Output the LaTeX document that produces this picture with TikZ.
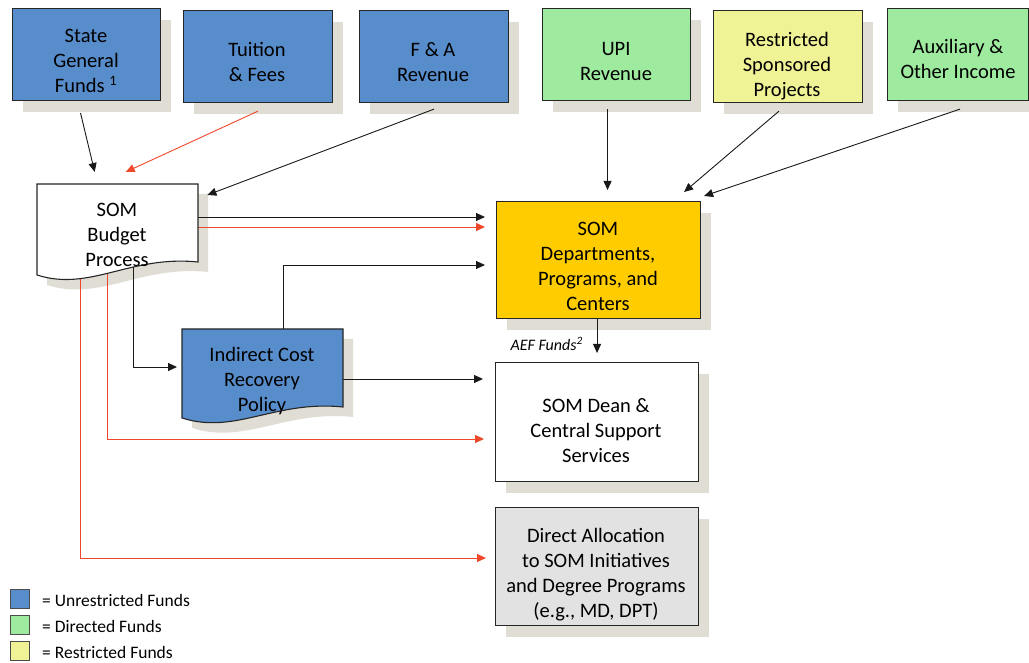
\documentclass[tikz,border=0pt]{standalone}
\usepackage{fontspec}
\setmainfont{Carlito}
\usetikzlibrary{arrows.meta,shadows}
\definecolor{ublue}{RGB}{88,141,203}
\definecolor{dgreen}{RGB}{158,234,158}
\definecolor{ryellow}{RGB}{240,242,150}
\definecolor{gold}{RGB}{255,204,0}
\definecolor{shad}{RGB}{224,222,212}
\definecolor{gbox}{RGB}{226,226,226}
\definecolor{redl}{RGB}{238,72,42}
\begin{document}
\begin{tikzpicture}[x=1pt,y=-1pt,
  bx/.style={draw=black!85,line width=1.1pt,anchor=north west,inner sep=0pt,
    general shadow={fill=shad,shadow xshift=10pt,shadow yshift=-11pt}},
  ghost/.style={anchor=north west,inner sep=0pt},
  txt/.style={align=center,font=\fontsize{20.5}{25}\selectfont,inner sep=0pt,
    execute at begin node=\strut,execute at end node=\strut},
  blk/.style={draw=black!90,line width=0.9pt,-{Triangle[length=9pt,width=8pt]}},
  rd/.style={draw=redl,line width=0.9pt,-{Triangle[length=9pt,width=8pt]}},
  doc/.style={draw=black!85,line width=1.1pt},
  leg/.style={draw=black!70,line width=0.8pt,minimum size=19pt,inner sep=0pt,anchor=north west},
  legt/.style={anchor=west,inner sep=0pt,font=\fontsize{17.5}{20}\selectfont},
]
\useasboundingbox (0,0) rectangle (1029,663);

% top row
\node[bx,fill=ublue,minimum width=148pt,minimum height=92pt] (sg) at (12,8) {};
\node[txt] at (86,65) {State\\General\\Funds \textsuperscript{1}};
\node[bx,fill=ublue,minimum width=149pt,minimum height=92pt] (tu) at (183,10) {};
\node[txt] at (257,66) {Tuition\\\& Fees};
\node[bx,fill=ublue,minimum width=149pt,minimum height=92pt] (fa) at (359,10) {};
\node[txt] at (433,66) {F \& A\\Revenue};
\node[bx,fill=dgreen,minimum width=148pt,minimum height=92pt] (upi) at (542,8) {};
\node[txt] at (616,65) {UPI\\Revenue};
\node[bx,fill=ryellow,minimum width=149pt,minimum height=92pt] (rsp) at (713,10) {};
\node[txt] at (787,68) {Restricted\\Sponsored\\Projects};
\node[bx,fill=dgreen,minimum width=141pt,minimum height=92pt] (aux) at (887,8) {};
\node[txt] at (958,63) {Auxiliary \&\\Other Income};

% right column
\node[bx,fill=gold,minimum width=204pt,minimum height=117pt] (dep) at (496,201) {};
\node[txt] at (598,270) {SOM\\Departments,\\Programs, and\\Centers};
\node[bx,fill=white,minimum width=203pt,minimum height=119pt] (dean) at (495,362) {};
\node[txt] at (596,434) {SOM Dean \&\\Central Support\\Services};
\node[bx,fill=gbox,minimum width=203pt,minimum height=118pt] (dir) at (495,507) {};
\node[txt] at (596,577) {Direct Allocation\\to SOM Initiatives\\and Degree Programs\\(e.g., MD, DPT)};

% document shapes (frames)
\node[ghost,minimum width=161pt,minimum height=78pt] (bud) at (37,184) {};
\node[ghost,minimum width=161pt,minimum height=78pt] (ind) at (182,329) {};
\fill[shad] (47,194) -- (208,194) -- (208,272) .. controls (140,265) and (100,302) .. (47,285) -- cycle;
\fill[shad] (192,339) -- (353,339) -- (353,417) .. controls (285,410) and (245,445) .. (192,428) -- cycle;

% connectors
\draw[blk] ([xshift=-6pt,yshift=-12pt]sg.south) -- ([xshift=-23pt,yshift=12pt]bud.north);
\draw[rd] ([yshift=-8pt]tu.south) -- ([xshift=8pt,yshift=12pt]bud.north);
\draw[blk] ([yshift=-6pt]fa.south) -- ([xshift=9pt,yshift=-11pt]bud.north east);
\draw[blk] ([xshift=-9pt,yshift=-8pt]upi.south) -- ([xshift=9pt,yshift=11pt]dep.north);
\draw[blk] ([xshift=-9pt,yshift=-8pt]rsp.south) -- ([xshift=-17pt,yshift=9pt]dep.north east);
\draw[blk] ([xshift=2pt,yshift=-8pt]aux.south) -- ([xshift=3pt,yshift=5pt]dep.north east);
\draw[blk,shorten >=11pt] (bud.east |- 0,217) -- (dep.west |- 0,217);
\draw[rd,shorten >=11pt] (bud.east |- 0,227) -- (dep.west |- 0,227);
\draw[blk,shorten >=11pt] (283,0 |- ind.north) |- (dep.west |- 0,265);
\draw[blk,shorten >=5pt] (133,0 |- bud.south) |- (ind.west |- 0,367);
\draw[blk,shorten >=12pt] (ind.east |- 0,379) -- (dean.west |- 0,379);
\draw[rd,shorten >=11pt] (107,0 |- bud.south) |- (dean.west |- 0,439);
\draw[rd,shorten >=9pt] (80,0 |- bud.south) |- (dir.west |- 0,558);
\draw[blk,shorten >=9pt] (dep.south -| dean.north) -- (dean.north);
\node[anchor=east,inner sep=0pt,font=\itshape\fontsize{16}{18}\selectfont] at (583,344) {AEF Funds\textsuperscript{2}};

% document shapes
\draw[doc,fill=white] (37,184) -- (198,184) -- (198,262) .. controls (130,255) and (90,292) .. (37,275) -- cycle;
\node[txt] at (117,239) {SOM\\Budget\\Process};
\draw[doc,fill=ublue] (182,329) -- (343,329) -- (343,407) .. controls (275,400) and (235,435) .. (182,418) -- cycle;
\node[txt] at (262,383) {Indirect Cost\\Recovery\\Policy};

% legend
\node[leg,fill=ublue] (l1) at (10,589) {};
\node[legt] at (42,600) {= Unrestricted Funds};
\node[leg,fill=dgreen] (l2) at (10,615) {};
\node[legt] at (42,626) {= Directed Funds};
\node[leg,fill=ryellow] (l3) at (10,641) {};
\node[legt] at (42,652) {= Restricted Funds};
\end{tikzpicture}
\end{document}
